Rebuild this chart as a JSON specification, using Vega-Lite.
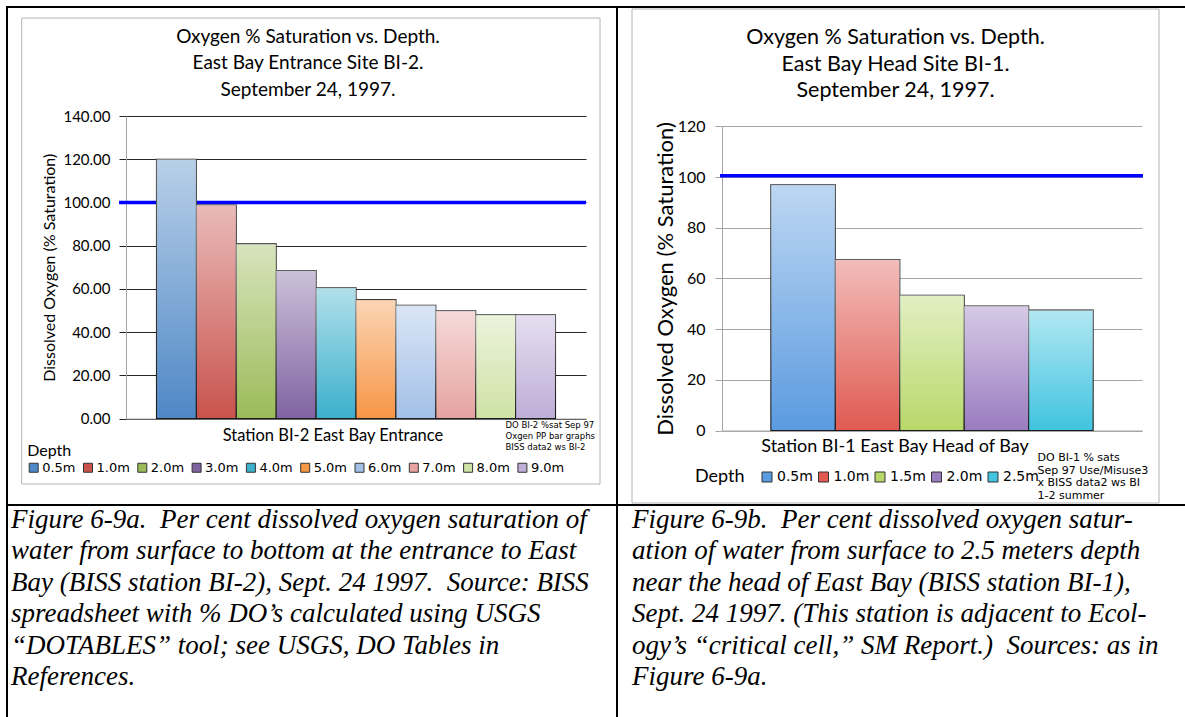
{
  "$schema": "https://vega.github.io/schema/vega-lite/v6.json",
  "padding": {"left": 6, "top": 6, "right": 0, "bottom": 0},
  "background": "white",
  "config": {"view": {"stroke": null}, "font": "Lato"},
  "datasets": {
    "bi2": [
      {"station": "Station BI-2 East Bay Entrance", "depth": "0.5m", "sat": 120.0},
      {"station": "Station BI-2 East Bay Entrance", "depth": "1.0m", "sat": 98.8},
      {"station": "Station BI-2 East Bay Entrance", "depth": "2.0m", "sat": 80.8},
      {"station": "Station BI-2 East Bay Entrance", "depth": "3.0m", "sat": 68.5},
      {"station": "Station BI-2 East Bay Entrance", "depth": "4.0m", "sat": 60.5},
      {"station": "Station BI-2 East Bay Entrance", "depth": "5.0m", "sat": 55.0},
      {"station": "Station BI-2 East Bay Entrance", "depth": "6.0m", "sat": 52.4},
      {"station": "Station BI-2 East Bay Entrance", "depth": "7.0m", "sat": 49.9},
      {"station": "Station BI-2 East Bay Entrance", "depth": "8.0m", "sat": 48.0},
      {"station": "Station BI-2 East Bay Entrance", "depth": "9.0m", "sat": 48.0}
    ],
    "bi1": [
      {"station": "Station BI-1 East Bay Head of Bay", "depth": "0.5m", "sat": 97.0},
      {"station": "Station BI-1 East Bay Head of Bay", "depth": "1.0m", "sat": 67.5},
      {"station": "Station BI-1 East Bay Head of Bay", "depth": "1.5m", "sat": 53.4},
      {"station": "Station BI-1 East Bay Head of Bay", "depth": "2.0m", "sat": 49.1},
      {"station": "Station BI-1 East Bay Head of Bay", "depth": "2.5m", "sat": 47.5}
    ],
    "refL": [{"pct": 100}],
    "refR": [{"pct": 100.5}],
    "capL": [{"caption": "Figure 6-9a.\u00a0 Per cent dissolved oxygen saturation of\nwater from surface to bottom at the entrance to East\nBay (BISS station BI-2), Sept. 24 1997.\u00a0 Source: BISS\nspreadsheet with % DO’s calculated using USGS\n“DOTABLES” tool; see USGS, DO Tables in\nReferences."}],
    "capR": [{"caption": "Figure 6-9b.\u00a0 Per cent dissolved oxygen satur-\nation of water from surface to 2.5 meters depth\nnear the head of East Bay (BISS station BI-1),\nSept. 24 1997. (This station is adjacent to Ecol-\nogy’s “critical cell,” SM Report.)\u00a0 Sources: as in\nFigure 6-9a."}]
  },
  "columns": 2,
  "spacing": 0,
  "bounds": "flush",
  "resolve": {"scale": {"color": "independent", "x": "independent", "y": "independent", "xOffset": "independent"}, "legend": {"color": "independent"}},
  "concat": [
    {
      "width": 610, "height": 498,
      "view": {"stroke": "black", "strokeWidth": 2, "fill": "white"},
      "resolve": {"scale": {"x": "independent", "y": "independent"}},
      "layer": [
        {
          "data": {"values": [{}]},
          "mark": {"type": "rect", "fill": "transparent", "stroke": "#b4b4b4", "strokeWidth": 1},
          "encoding": {
            "x": {"datum": 0, "type": "quantitative", "scale": {"domain": [0, 1], "range": [14.7, 593]},
              "axis": {"orient": "top", "domain": false, "ticks": false, "labels": false, "grid": false,
                "title": ["Oxygen % Saturation vs. Depth.", "East Bay Entrance Site BI-2.", "September 24, 1997."],
                "titleX": 300.5, "titleY": 35.5, "titleAlign": "center", "titleBaseline": "alphabetic", "titleAngle": 0, "titleFont": "Lato", "titleFontSize": 19, "titleFontWeight": "normal", "titleLineHeight": 26.3, "titleColor": "black"}},
            "x2": {"datum": 1},
            "y": {"datum": 0, "type": "quantitative", "scale": {"domain": [0, 1], "range": [477, 11]}, "axis": null},
            "y2": {"datum": 1}
          }
        },
        {
          "data": {"name": "refL"},
          "mark": {"type": "rule", "color": "#0000ff", "strokeWidth": 3.5},
          "encoding": {
            "x": {"datum": 0, "type": "quantitative", "scale": {"domain": [0, 1], "range": [112, 579]}, "axis": null},
            "x2": {"datum": 1},
            "y": {"field": "pct", "type": "quantitative", "scale": {"domain": [0, 140], "range": [411.5, 109], "nice": false}, "axis": null}
          }
        },
        {
          "data": {"name": "bi2"},
          "encoding": {
            "x": {"field": "station", "type": "nominal", "scale": {"range": [119, 579], "paddingOuter": 0.0764, "paddingInner": 0},
              "axis": {"orient": "bottom", "offset": -86.5, "ticks": false, "grid": false, "domainColor": "#a6a6a6", "labelAngle": 0, "labelLimit": 0, "labelFont": "Lato", "labelFontSize": 16.5, "labelColor": "black", "labelPadding": 9, "labelOffset": -23,
                "title": ["DO BI-2 %sat Sep 97", "Oxgen PP bar graphs", "BISS data2 ws BI-2"], "titleX": 498, "titleY": 2, "titleAlign": "left", "titleBaseline": "top", "titleFont": "DejaVu Sans", "titleFontSize": 8.5, "titleFontWeight": "normal", "titleLineHeight": 11, "titleColor": "black"}},
            "xOffset": {"field": "depth", "type": "nominal", "sort": null, "scale": {"paddingInner": 0, "paddingOuter": 0}},
            "y": {"field": "sat", "type": "quantitative", "scale": {"domain": [0, 140], "range": [411.5, 109], "nice": false},
              "axis": {"orient": "left", "offset": -119, "values": [0, 20, 40, 60, 80, 100, 120, 140], "format": ".2f", "grid": true, "gridColor": "#262626", "gridWidth": 1, "domainColor": "#a6a6a6", "tickColor": "#262626", "tickSize": 7, "labelPadding": 9, "labelFont": "Lato", "labelFontSize": 15, "labelColor": "black",
                "title": "Dissolved Oxygen (% Saturation)", "titleFont": "Lato", "titleFontSize": 16, "titleFontWeight": "normal", "titleColor": "black", "titlePadding": 5}}
          },
          "layer": [
            {
              "mark": {"type": "bar", "stroke": "#1a1a1a", "strokeWidth": 1.1},
              "encoding": {
                "color": {"field": "depth", "type": "nominal", "sort": null,
                  "scale": {"domain": ["0.5m", "1.0m", "2.0m", "3.0m", "4.0m", "5.0m", "6.0m", "7.0m", "8.0m", "9.0m"],
                    "range": ["#4f88c6", "#c9534d", "#9bbb59", "#8064a2", "#3cb0cc", "#f79646", "#a3c0e8", "#e6a3a0", "#cfe2a6", "#bfaed8"]},
                  "legend": {"orient": "none", "legendX": 20.2, "legendY": 436, "direction": "horizontal", "columns": 10, "title": "Depth", "titleFont": "Lato", "titleFontSize": 16, "titleFontWeight": "normal", "titleColor": "black", "titlePadding": 2, "labelFont": "DejaVu Sans", "labelFontSize": 13, "labelColor": "black", "labelOffset": 2, "symbolType": "square", "symbolSize": 81, "symbolStrokeColor": "#333333", "symbolStrokeWidth": 1, "columnPadding": 5.3, "padding": 0}}
              }
            },
            {
              "mark": {"type": "bar", "strokeWidth": 0,
                "color": {"gradient": "linear", "x1": 0, "y1": 0, "x2": 0, "y2": 1, "stops": [{"offset": 0, "color": "rgba(255,255,255,0.6)"}, {"offset": 1, "color": "rgba(255,255,255,0)"}]}}
            }
          ]
        }
      ]
    },
    {
      "width": 570, "height": 498,
      "view": {"stroke": "black", "strokeWidth": 2, "fill": "white"},
      "resolve": {"scale": {"x": "independent", "y": "independent"}},
      "layer": [
        {
          "data": {"values": [{}]},
          "mark": {"type": "rect", "fill": "transparent", "stroke": "#b4b4b4", "strokeWidth": 1},
          "encoding": {
            "x": {"datum": 0, "type": "quantitative", "scale": {"domain": [0, 1], "range": [15, 542]},
              "axis": {"orient": "top", "domain": false, "ticks": false, "labels": false, "grid": false,
                "title": ["Oxygen % Saturation vs. Depth.", "East Bay Head Site BI-1.", "September 24, 1997."],
                "titleX": 278, "titleY": 36.5, "titleAlign": "center", "titleBaseline": "alphabetic", "titleAngle": 0, "titleFont": "Lato", "titleFontSize": 21.5, "titleFontWeight": "normal", "titleLineHeight": 26.5, "titleColor": "black"}},
            "x2": {"datum": 1},
            "y": {"datum": 0, "type": "quantitative", "scale": {"domain": [0, 1], "range": [496, 2]}, "axis": null},
            "y2": {"datum": 1}
          }
        },
        {
          "data": {"name": "refR"},
          "mark": {"type": "rule", "color": "#0000ff", "strokeWidth": 3.5},
          "encoding": {
            "x": {"datum": 0, "type": "quantitative", "scale": {"domain": [0, 1], "range": [103, 526]}, "axis": null},
            "x2": {"datum": 1},
            "y": {"field": "pct", "type": "quantitative", "scale": {"domain": [0, 120], "range": [423.5, 119.4], "nice": false}, "axis": null}
          }
        },
        {
          "data": {"name": "bi1"},
          "encoding": {
            "x": {"field": "station", "type": "nominal", "scale": {"range": [105, 525], "paddingOuter": 0.1516, "paddingInner": 0},
              "axis": {"orient": "bottom", "offset": -74.5, "ticks": false, "grid": false, "domainColor": "#a6a6a6", "labelAngle": 0, "labelLimit": 0, "labelFont": "Lato", "labelFontSize": 18, "labelColor": "black", "labelPadding": 7, "labelOffset": -37,
                "title": ["DO BI-1 % sats", "Sep 97 Use/Misuse3", "x BISS data2 ws BI", "1-2 summer"], "titleX": 420, "titleY": 21, "titleAlign": "left", "titleBaseline": "top", "titleFont": "DejaVu Sans", "titleFontSize": 11, "titleFontWeight": "normal", "titleLineHeight": 12.7, "titleColor": "black"}},
            "xOffset": {"field": "depth", "type": "nominal", "sort": null, "scale": {"paddingInner": 0, "paddingOuter": 0}},
            "y": {"field": "sat", "type": "quantitative", "scale": {"domain": [0, 120], "range": [423.5, 119.4], "nice": false},
              "axis": {"orient": "left", "offset": -105, "values": [0, 20, 40, 60, 80, 100, 120], "grid": true, "gridColor": "#a6a6a6", "gridWidth": 1, "domainColor": "#a6a6a6", "tickColor": "#a6a6a6", "tickSize": 7, "labelPadding": 10, "labelFont": "Lato", "labelFontSize": 16, "labelColor": "black",
                "title": "Dissolved Oxygen (% Saturation)", "titleFont": "Lato", "titleFontSize": 22, "titleFontWeight": "normal", "titleColor": "black", "titlePadding": 0}}
          },
          "layer": [
            {
              "mark": {"type": "bar", "stroke": "#1a1a1a", "strokeWidth": 1.1},
              "encoding": {
                "color": {"field": "depth", "type": "nominal", "sort": null,
                  "scale": {"domain": ["0.5m", "1.0m", "1.5m", "2.0m", "2.5m"],
                    "range": ["#5b9be0", "#e05a52", "#b8d86a", "#9a7cc0", "#40c4e0"]},
                  "legend": {"orient": "none", "legendX": 78, "legendY": 463, "direction": "horizontal", "columns": 5, "title": "Depth", "titleOrient": "left", "titleFont": "Lato", "titleFontSize": 18, "titleFontWeight": "normal", "titleColor": "black", "titlePadding": 15, "labelFont": "DejaVu Sans", "labelFontSize": 14, "labelColor": "black", "labelOffset": 3, "symbolType": "square", "symbolSize": 100, "symbolStrokeColor": "#333333", "symbolStrokeWidth": 1, "columnPadding": 3.5, "padding": 0}}
              }
            },
            {
              "mark": {"type": "bar", "strokeWidth": 0,
                "color": {"gradient": "linear", "x1": 0, "y1": 0, "x2": 0, "y2": 1, "stops": [{"offset": 0, "color": "rgba(255,255,255,0.6)"}, {"offset": 1, "color": "rgba(255,255,255,0)"}]}}
            }
          ]
        }
      ]
    },
    {
      "width": 610, "height": 214,
      "view": {"stroke": "black", "strokeWidth": 2, "fill": "white"},
      "data": {"name": "capL"},
      "mark": {"type": "text", "align": "left", "baseline": "alphabetic", "dx": 4, "dy": 23, "font": "Liberation Serif", "fontStyle": "italic", "fontSize": 27, "lineHeight": 31.4, "lineBreak": "\n", "color": "black"},
      "encoding": {
        "x": {"datum": 0, "type": "quantitative", "scale": {"domain": [0, 1]}, "axis": null},
        "y": {"datum": 1, "type": "quantitative", "scale": {"domain": [0, 1]}, "axis": null},
        "text": {"field": "caption"}
      }
    },
    {
      "width": 570, "height": 214,
      "view": {"stroke": "black", "strokeWidth": 2, "fill": "white"},
      "data": {"name": "capR"},
      "mark": {"type": "text", "align": "left", "baseline": "alphabetic", "dx": 15, "dy": 23, "font": "Liberation Serif", "fontStyle": "italic", "fontSize": 27, "lineHeight": 31.4, "lineBreak": "\n", "color": "black"},
      "encoding": {
        "x": {"datum": 0, "type": "quantitative", "scale": {"domain": [0, 1]}, "axis": null},
        "y": {"datum": 1, "type": "quantitative", "scale": {"domain": [0, 1]}, "axis": null},
        "text": {"field": "caption"}
      }
    }
  ]
}
